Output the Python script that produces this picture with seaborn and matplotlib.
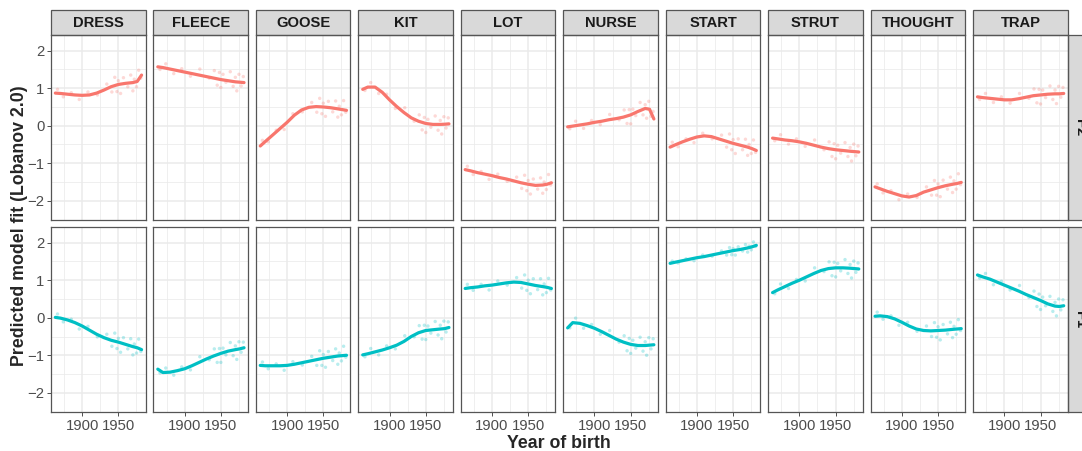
import numpy as np
import pandas as pd
import matplotlib
matplotlib.use("Agg")
import matplotlib.pyplot as plt
from matplotlib.patches import Rectangle
from matplotlib.ticker import FixedLocator
import seaborn as sns

sns.set_style("white")
plt.rcParams["font.family"] = ["Liberation Sans", "DejaVu Sans"]

vowels = ["DRESS", "FLEECE", "GOOSE", "KIT", "LOT", "NURSE", "START", "STRUT", "THOUGHT", "TRAP"]
formants = ["F2", "F1"]
formant_colors = {"F2": "#F8766D", "F1": "#00BFC4"}

# smooth fitted line, read at these years
line_years = [1863, 1870, 1880, 1890, 1900, 1910, 1920, 1930, 1940, 1950, 1960, 1970, 1976, 1982]

f2_dress   = [0.87, 0.86, 0.84, 0.82, 0.81, 0.82, 0.87, 0.95, 1.04, 1.10, 1.13, 1.15, 1.18, 1.35]
f2_fleece  = [1.57, 1.55, 1.51, 1.47, 1.43, 1.39, 1.35, 1.31, 1.27, 1.23, 1.20, 1.17, 1.16, 1.15]
f2_goose   = [-0.54, -0.42, -0.25, -0.08, 0.09, 0.28, 0.42, 0.49, 0.51, 0.50, 0.48, 0.45, 0.43, 0.41]
f2_kit     = [0.97, 1.03, 1.03, 0.89, 0.69, 0.51, 0.35, 0.21, 0.12, 0.06, 0.035, 0.035, 0.04, 0.05]
f2_lot     = [-1.17, -1.20, -1.25, -1.29, -1.33, -1.38, -1.42, -1.47, -1.52, -1.56, -1.59, -1.58, -1.56, -1.52]
f2_nurse   = [-0.03, -0.01, 0.02, 0.05, 0.09, 0.12, 0.16, 0.19, 0.23, 0.29, 0.38, 0.46, 0.44, 0.18]
f2_start   = [-0.57, -0.51, -0.43, -0.36, -0.30, -0.27, -0.29, -0.35, -0.41, -0.47, -0.52, -0.57, -0.61, -0.66]
f2_strut   = [-0.33, -0.35, -0.38, -0.40, -0.43, -0.47, -0.52, -0.57, -0.61, -0.64, -0.66, -0.68, -0.69, -0.70]
f2_thought = [-1.63, -1.68, -1.75, -1.81, -1.87, -1.90, -1.86, -1.77, -1.71, -1.65, -1.60, -1.56, -1.54, -1.51]
f2_trap    = [0.77, 0.75, 0.73, 0.71, 0.69, 0.69, 0.72, 0.76, 0.80, 0.82, 0.84, 0.85, 0.85, 0.86]

f1_dress   = [0.01, -0.01, -0.06, -0.13, -0.22, -0.33, -0.44, -0.53, -0.60, -0.65, -0.71, -0.77, -0.80, -0.85]
f1_fleece  = [-1.37, -1.46, -1.45, -1.41, -1.36, -1.28, -1.19, -1.10, -1.02, -0.95, -0.89, -0.85, -0.83, -0.80]
f1_goose   = [-1.27, -1.28, -1.28, -1.28, -1.27, -1.24, -1.20, -1.16, -1.12, -1.08, -1.05, -1.02, -1.01, -1.00]
f1_kit     = [-0.99, -0.96, -0.91, -0.86, -0.80, -0.73, -0.63, -0.50, -0.40, -0.34, -0.32, -0.30, -0.29, -0.26]
f1_lot     = [0.78, 0.80, 0.82, 0.85, 0.87, 0.90, 0.93, 0.95, 0.94, 0.90, 0.86, 0.83, 0.81, 0.78]
f1_nurse   = [-0.27, -0.13, -0.15, -0.21, -0.28, -0.37, -0.47, -0.57, -0.65, -0.71, -0.74, -0.74, -0.73, -0.72]
f1_start   = [1.45, 1.48, 1.52, 1.56, 1.60, 1.63, 1.67, 1.71, 1.75, 1.79, 1.82, 1.86, 1.89, 1.93]
f1_strut   = [0.67, 0.74, 0.83, 0.92, 1.00, 1.09, 1.18, 1.26, 1.31, 1.33, 1.33, 1.32, 1.31, 1.30]
f1_thought = [0.04, 0.05, 0.03, -0.03, -0.12, -0.22, -0.30, -0.34, -0.35, -0.34, -0.33, -0.31, -0.30, -0.29]
f1_trap    = [1.14, 1.09, 1.03, 0.95, 0.87, 0.79, 0.71, 0.62, 0.54, 0.46, 0.37, 0.31, 0.30, 0.32]

# per-speaker predicted values (faint points), read roughly at these birth years
point_years = [1866, 1874, 1885, 1896, 1908, 1921, 1934, 1941, 1945, 1948,
               1950, 1953, 1957, 1963, 1967, 1970, 1972, 1975, 1978, 1981]

p2_dress   = [0.97, 0.77, 0.88, 0.70, 0.90, 0.82, 1.11, 0.90, 1.29, 0.91, 1.20, 0.86, 1.28, 1.04, 1.35, 0.93, 1.24, 1.04, 1.48, 1.27]
p2_fleece  = [1.50, 1.65, 1.39, 1.52, 1.32, 1.51, 1.27, 1.47, 1.08, 1.42, 1.02, 1.37, 1.16, 1.44, 1.05, 1.29, 0.93, 1.37, 1.06, 1.31]
p2_goose   = [-0.39, -0.43, -0.12, -0.10, 0.32, 0.37, 0.62, 0.36, 0.73, 0.32, 0.60, 0.25, 0.65, 0.37, 0.66, 0.23, 0.52, 0.29, 0.67, 0.36]
p2_kit     = [0.94, 1.15, 0.86, 0.84, 0.46, 0.48, 0.12, 0.29, -0.11, 0.22, -0.18, 0.17, -0.04, 0.26, -0.12, 0.14, -0.22, 0.24, -0.06, 0.21]
p2_lot     = [-1.08, -1.30, -1.22, -1.43, -1.29, -1.48, -1.37, -1.67, -1.32, -1.73, -1.46, -1.82, -1.42, -1.69, -1.39, -1.80, -1.50, -1.70, -1.30, -1.58]
p2_nurse   = [-0.08, 0.12, -0.07, 0.14, 0.03, 0.30, 0.16, 0.42, 0.06, 0.43, 0.05, 0.44, 0.27, 0.62, 0.29, 0.56, 0.20, 0.65, 0.25, 0.38]
p2_start   = [-0.44, -0.56, -0.35, -0.45, -0.20, -0.35, -0.25, -0.57, -0.22, -0.64, -0.37, -0.74, -0.35, -0.64, -0.36, -0.79, -0.50, -0.74, -0.38, -0.71]
p2_strut   = [-0.40, -0.24, -0.49, -0.35, -0.55, -0.38, -0.64, -0.43, -0.82, -0.48, -0.88, -0.52, -0.73, -0.45, -0.82, -0.58, -0.94, -0.49, -0.80, -0.54]
p2_thought = [-1.55, -1.79, -1.73, -1.97, -1.82, -1.91, -1.63, -1.85, -1.46, -1.85, -1.55, -1.89, -1.45, -1.69, -1.37, -1.78, -1.47, -1.69, -1.28, -1.57]
p2_trap    = [0.70, 0.86, 0.62, 0.77, 0.60, 0.86, 0.73, 0.98, 0.61, 0.97, 0.58, 0.95, 0.75, 1.06, 0.70, 0.95, 0.59, 1.05, 0.76, 1.02]

p1_dress   = [0.10, -0.11, -0.04, -0.30, -0.23, -0.51, -0.44, -0.76, -0.41, -0.82, -0.55, -0.92, -0.53, -0.83, -0.56, -0.99, -0.70, -0.94, -0.57, -0.90]
p1_fleece  = [-1.47, -1.34, -1.53, -1.31, -1.39, -1.04, -1.12, -0.83, -1.19, -0.82, -1.19, -0.81, -0.99, -0.66, -1.01, -0.75, -1.11, -0.64, -0.92, -0.65]
p1_goose   = [-1.18, -1.36, -1.23, -1.40, -1.17, -1.26, -1.03, -1.27, -0.88, -1.27, -0.98, -1.32, -0.90, -1.14, -0.83, -1.24, -0.94, -1.15, -0.76, -1.05]
p1_kit     = [-1.04, -0.82, -0.99, -0.75, -0.83, -0.48, -0.51, -0.21, -0.57, -0.20, -0.58, -0.22, -0.41, -0.10, -0.46, -0.20, -0.56, -0.09, -0.38, -0.11]
p1_lot     = [0.89, 0.73, 0.89, 0.74, 0.98, 0.87, 1.07, 0.79, 1.14, 0.73, 1.00, 0.64, 1.04, 0.75, 1.04, 0.61, 0.90, 0.67, 1.05, 0.74]
p1_nurse   = [-0.27, -0.01, -0.28, -0.18, -0.44, -0.34, -0.65, -0.48, -0.88, -0.55, -0.95, -0.60, -0.81, -0.52, -0.89, -0.64, -1.00, -0.53, -0.83, -0.56]
p1_start   = [1.51, 1.46, 1.57, 1.52, 1.67, 1.64, 1.78, 1.67, 1.87, 1.68, 1.84, 1.67, 1.89, 1.78, 1.95, 1.75, 1.91, 1.81, 2.02, 1.90]
p1_strut   = [0.64, 0.90, 0.78, 1.02, 0.98, 1.33, 1.23, 1.49, 1.12, 1.48, 1.09, 1.45, 1.25, 1.55, 1.18, 1.42, 1.06, 1.51, 1.21, 1.46]
p1_thought = [0.15, -0.04, 0.05, -0.20, -0.12, -0.36, -0.22, -0.50, -0.13, -0.52, -0.24, -0.59, -0.18, -0.43, -0.12, -0.53, -0.23, -0.44, -0.05, -0.34]
p1_trap    = [1.06, 1.18, 0.88, 0.97, 0.74, 0.86, 0.54, 0.71, 0.30, 0.63, 0.22, 0.55, 0.32, 0.57, 0.17, 0.41, 0.05, 0.50, 0.21, 0.48]

x_ticks = [1900, 1950]
x_minor = [1875, 1925, 1975]
y_ticks = [-2, -1, 0, 1, 2]
y_minor = [-2.5, -1.5, -0.5, 0.5, 1.5]

lines = {
    "F2": [f2_dress, f2_fleece, f2_goose, f2_kit, f2_lot, f2_nurse, f2_start, f2_strut, f2_thought, f2_trap],
    "F1": [f1_dress, f1_fleece, f1_goose, f1_kit, f1_lot, f1_nurse, f1_start, f1_strut, f1_thought, f1_trap],
}
points = {
    "F2": [p2_dress, p2_fleece, p2_goose, p2_kit, p2_lot, p2_nurse, p2_start, p2_strut, p2_thought, p2_trap],
    "F1": [p1_dress, p1_fleece, p1_goose, p1_kit, p1_lot, p1_nurse, p1_start, p1_strut, p1_thought, p1_trap],
}

line_rows, point_rows = [], []
for f in formants:
    for v, vals in zip(vowels, lines[f]):
        for yr, val in zip(line_years, vals):
            line_rows.append((f, v, yr, val))
    for v, vals in zip(vowels, points[f]):
        for yr, val in zip(point_years, vals):
            point_rows.append((f, v, yr, val))
line_df = pd.DataFrame(line_rows, columns=["formant", "vowel", "year", "fit"])
point_df = pd.DataFrame(point_rows, columns=["formant", "vowel", "year", "fit"])

W, H = 1082, 451
fig = plt.figure(figsize=(W / 100, H / 100), dpi=100)
axes = fig.subplots(2, 10, sharex=True, sharey=True)
fig.subplots_adjust(left=51 / W, right=1067.7 / W, top=1 - 35.3 / H, bottom=1 - 412.3 / H,
                    wspace=0.0836, hspace=0.038)

border = "#555555"
strip_h = 24.4 / 184.5
strip_w = 24.4 / 94.5

for r, f in enumerate(formants):
    for c, v in enumerate(vowels):
        ax = axes[r, c]
        col = formant_colors[f]
        pd_sub = point_df[(point_df.formant == f) & (point_df.vowel == v)]
        ld_sub = line_df[(line_df.formant == f) & (line_df.vowel == v)]
        sns.scatterplot(data=pd_sub, x="year", y="fit", ax=ax, color=col, s=6,
                        alpha=0.28, edgecolor="none", legend=False, zorder=2)
        sns.lineplot(data=ld_sub, x="year", y="fit", ax=ax, color=col, lw=2.3,
                     legend=False, zorder=3)
        ax.set_xlim(1857, 1987.5)
        ax.set_ylim(-2.52, 2.41)
        ax.xaxis.set_major_locator(FixedLocator(x_ticks))
        ax.xaxis.set_minor_locator(FixedLocator(x_minor))
        ax.yaxis.set_major_locator(FixedLocator(y_ticks))
        ax.yaxis.set_minor_locator(FixedLocator(y_minor))
        ax.grid(which="major", color="#EBEBEB", lw=1.1)
        ax.grid(which="minor", color="#EBEBEB", lw=0.55)
        ax.set_axisbelow(True)
        ax.set_xlabel("")
        ax.set_ylabel("")
        for s in ax.spines.values():
            s.set_color(border)
            s.set_linewidth(0.9)
        ax.tick_params(which="major", length=2.75, width=0.6, color="#333333",
                       labelsize=10.7, labelcolor="#4D4D4D", pad=2)
        ax.tick_params(which="minor", length=0)
        ax.tick_params(axis="x", labelbottom=(r == 1), bottom=(r == 1))
        ax.tick_params(axis="y", labelleft=(c == 0), left=(c == 0))
        if r == 0:
            ax.add_patch(Rectangle((0, 1.003), 1, strip_h, transform=ax.transAxes, clip_on=False,
                                   fc="#D9D9D9", ec=border, lw=0.9))
            ax.text(0.5, 1.003 + strip_h / 2, v, transform=ax.transAxes, ha="center", va="center",
                    fontsize=10.6, fontweight="bold", color="#1A1A1A")
        if c == 9:
            ax.add_patch(Rectangle((1.0, 0), strip_w, 1, transform=ax.transAxes, clip_on=False,
                                   fc="#D9D9D9", ec=border, lw=0.9))
            ax.text(1.0 + strip_w / 2, 0.5, f, transform=ax.transAxes, ha="center", va="center",
                    rotation=-90, fontsize=10.6, fontweight="bold", color="#1A1A1A")

fig.text(20 / W, 1 - 226 / H, "Predicted model fit (Lobanov 2.0)", rotation=90, ha="center",
         va="center", fontsize=12.8, fontweight="bold")
fig.text(559 / W, 1 - 448.5 / H, "Year of birth", ha="center", va="baseline",
         fontsize=12.8, fontweight="bold")

fig.savefig("out.png", dpi=100, facecolor="white")
